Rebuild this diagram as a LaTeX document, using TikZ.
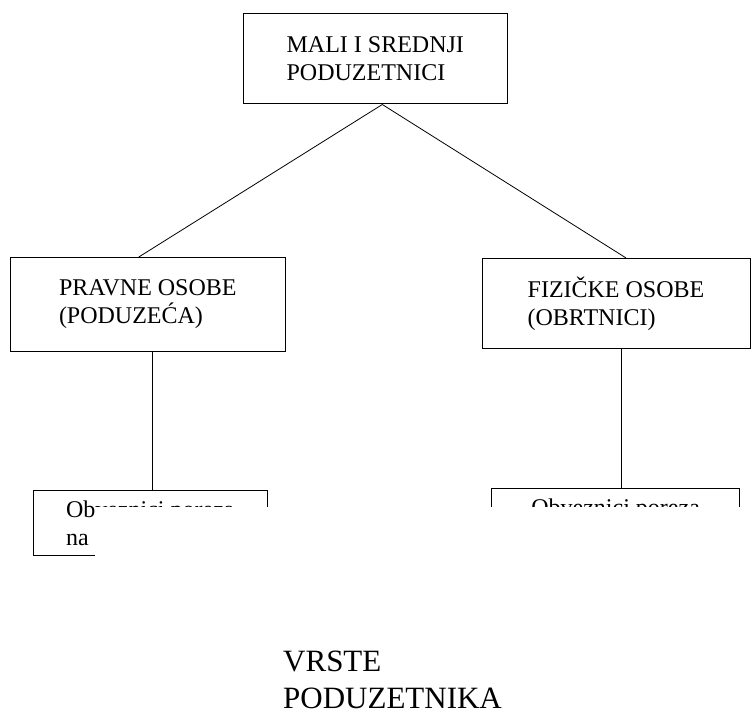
\documentclass[tikz,border=0pt]{standalone}
\usepackage{fontspec}
\setmainfont{Liberation Serif}
\usepackage{tikz}
\tikzstyle{orgbox} = [draw, line width=1pt, rectangle, inner sep=0pt, align=left, font=\fontsize{24pt}{28pt}\selectfont]
\tikzstyle{orgline} = [line width=0.8pt]

\begin{document}
\begin{tikzpicture}[x=1pt, y=-1pt]
		\useasboundingbox (0,0) rectangle (752,711);
		\node (msp) [orgbox, minimum width=263.4pt, minimum height=90.4pt] at (375.3,58.8) {MALI I SREDNJI\\PODUZETNICI};
		\node (pravne) [orgbox, minimum width=274.5pt, minimum height=94pt] at (147.8,304.5) {PRAVNE OSOBE\\(PODUZEĆA)};
		\node (fizicke) [orgbox, minimum width=268pt, minimum height=90.3pt] at (616,303.6) {FIZIČKE OSOBE\\(OBRTNICI)};
		\node (obvL) [orgbox, minimum width=234.6pt, minimum height=65.6pt] at (150.3,522.8) {Obveznici poreza\\na};
		\node (obvR) [orgbox, minimum width=248pt, minimum height=66pt] at (615.6,521.4) {Obveznici poreza\\\mbox{}};
		\draw [orgline] ([xshift=7pt]msp.south) -- ([xshift=-9pt]pravne.north);
		\draw [orgline] ([xshift=7pt]msp.south) -- ([xshift=10pt]fizicke.north);
		\draw [orgline] ([xshift=2pt]obvL.north |- pravne.south) -- ([xshift=2pt]obvL.north);
		\draw [orgline] ([xshift=6pt]obvR.north |- fizicke.south) -- ([xshift=6pt]obvR.north);
		% donji dio okvira je odrezan
		\fill [white] (94.5,506.6) rectangle (752,600);
		\node (naslov) [anchor=base west, align=left, inner sep=0pt, font=\fontsize{31pt}{37.5pt}\selectfont] at (283,708.5) {VRSTE\\PODUZETNIKA};
	\end{tikzpicture}
\end{document}
